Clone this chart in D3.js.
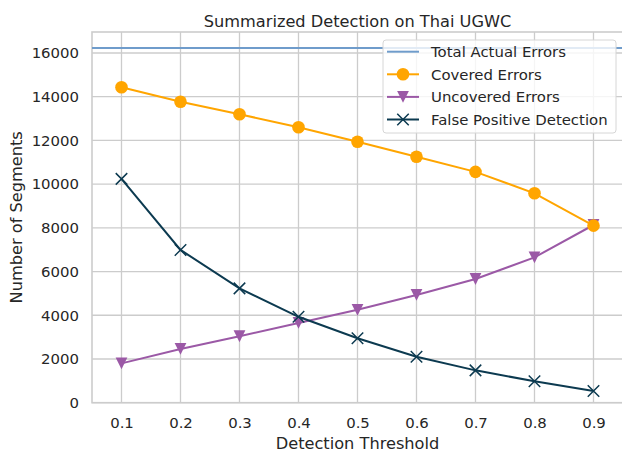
<!doctype html>
<html lang="en">
  <head>
    <meta charset="UTF-8" />
    <title>Summarized Detection on Thai UGWC</title>
    <script src="https://unpkg.com/d3@7.9.0/dist/d3.min.js"></script>
    <style>
      body {
        margin: 0;
        background: #fff;
      }
      svg {
        font-family: 'DejaVu Sans', sans-serif;
        display: block;
      }
    </style>
  </head>
  <body>
    <div id="chart"></div>
    <script>
      // detection thresholds on the x axis
      const thresholds = [0.1, 0.2, 0.3, 0.4, 0.5, 0.6, 0.7, 0.8, 0.9];
      const yTicks = [0, 2000, 4000, 6000, 8000, 10000, 12000, 14000, 16000];

      const totalErrors = 16230;
      const covered = [14430, 13770, 13200, 12600, 11940, 11250, 10560, 9580, 8100];
      const uncovered = [1800, 2460, 3040, 3650, 4250, 4930, 5660, 6650, 8130];
      const falsePositive = [10240, 6990, 5230, 3930, 2950, 2100, 1480, 980, 535];

      const seriesNames = [
        'Total Actual Errors',
        'Covered Errors',
        'Uncovered Errors',
        'False Positive Detection',
      ];

      const W = 622;
      const H = 455;
      const margin = { top: 32, right: -1, bottom: 52.3, left: 92 };

      const colors = {
        total: '#6f9ccb',
        covered: '#ffa500',
        uncovered: '#9b59a6',
        fp: '#0c3a50',
      };
      const textColor = '#262626';
      const gridColor = '#cccccc';
      const tickSize = '14.9px';
      const labelSize = '16.2px';

      const svg = d3
        .select('#chart')
        .append('svg')
        .attr('width', W)
        .attr('height', H);

      const x = d3
        .scaleLinear()
        .domain([0.05, 0.95])
        .range([margin.left, W - margin.right]);
      const y = d3
        .scaleLinear()
        .domain([0, 16960])
        .range([H - margin.bottom, margin.top]);

      // grid
      svg
        .append('g')
        .selectAll('line')
        .data(thresholds)
        .join('line')
        .attr('x1', (d) => x(d))
        .attr('x2', (d) => x(d))
        .attr('y1', y.range()[0])
        .attr('y2', y.range()[1])
        .attr('stroke', gridColor)
        .attr('stroke-width', 1.3);
      svg
        .append('g')
        .selectAll('line')
        .data(yTicks)
        .join('line')
        .attr('x1', x.range()[0])
        .attr('x2', x.range()[1])
        .attr('y1', (d) => y(d))
        .attr('y2', (d) => y(d))
        .attr('stroke', gridColor)
        .attr('stroke-width', 1.3);

      // spines
      svg
        .append('rect')
        .attr('x', x.range()[0])
        .attr('y', y.range()[1])
        .attr('width', x.range()[1] - x.range()[0])
        .attr('height', y.range()[0] - y.range()[1])
        .attr('fill', 'none')
        .attr('stroke', gridColor)
        .attr('stroke-width', 1.6);

      // tick labels
      const xAxis = svg
        .append('g')
        .attr('transform', `translate(0,${y.range()[0]})`)
        .call(
          d3
            .axisBottom(x)
            .tickValues(thresholds)
            .tickFormat(d3.format('.1f'))
            .tickSize(0)
            .tickPadding(15),
        );
      const yAxis = svg
        .append('g')
        .attr('transform', `translate(${x.range()[0]},0)`)
        .call(
          d3
            .axisLeft(y)
            .tickValues(yTicks)
            .tickFormat(d3.format('d'))
            .tickSize(0)
            .tickPadding(13),
        );
      [xAxis, yAxis].forEach((g) => {
        g.select('.domain').remove();
        g.selectAll('text')
          .attr('fill', textColor)
          .style('font-size', tickSize)
          .style('font-family', "'DejaVu Sans', sans-serif");
      });

      // titles
      const midX = (x.range()[0] + x.range()[1]) / 2;
      svg
        .append('text')
        .attr('x', midX)
        .attr('y', 26.5)
        .attr('text-anchor', 'middle')
        .attr('fill', textColor)
        .style('font-size', labelSize)
        .text('Summarized Detection on Thai UGWC');
      svg
        .append('text')
        .attr('x', midX)
        .attr('y', 449)
        .attr('text-anchor', 'middle')
        .attr('fill', textColor)
        .style('font-size', labelSize)
        .text('Detection Threshold');
      svg
        .append('text')
        .attr(
          'transform',
          `translate(22,${(y.range()[0] + y.range()[1]) / 2}) rotate(-90)`,
        )
        .attr('text-anchor', 'middle')
        .attr('fill', textColor)
        .style('font-size', labelSize)
        .text('Number of Segments');

      // total actual errors
      svg
        .append('line')
        .attr('x1', x.range()[0])
        .attr('x2', x.range()[1])
        .attr('y1', y(totalErrors))
        .attr('y2', y(totalErrors))
        .attr('stroke', colors.total)
        .attr('stroke-width', 2);

      const line = d3
        .line()
        .x((d, i) => x(thresholds[i]))
        .y((d) => y(d));

      const triangleDown = (s) =>
        `M0,${s / 2}L${-s / 2},${-s / 2}L${s / 2},${-s / 2}Z`;
      const cross = (s) =>
        `M${-s / 2},${-s / 2}L${s / 2},${s / 2}M${-s / 2},${s / 2}L${s / 2},${-s / 2}`;

      function addMarker(sel, marker, color) {
        if (marker === 'circle') {
          sel.append('circle').attr('r', 6.3).attr('fill', color);
        } else if (marker === 'tri') {
          sel.append('path').attr('d', triangleDown(11.8)).attr('fill', color);
        } else if (marker === 'x') {
          sel
            .append('path')
            .attr('d', cross(11.5))
            .attr('fill', 'none')
            .attr('stroke', color)
            .attr('stroke-width', 1.5);
        }
      }

      function drawSeries(values, color, marker) {
        const g = svg.append('g');
        g.append('path')
          .attr('d', line(values))
          .attr('fill', 'none')
          .attr('stroke', color)
          .attr('stroke-width', 2);
        g.selectAll('.pt')
          .data(values)
          .join('g')
          .attr(
            'transform',
            (d, i) => `translate(${x(thresholds[i])},${y(d)})`,
          )
          .each(function () {
            addMarker(d3.select(this), marker, color);
          });
      }

      drawSeries(uncovered, colors.uncovered, 'tri');
      drawSeries(covered, colors.covered, 'circle');
      drawSeries(falsePositive, colors.fp, 'x');

      // legend
      const lg = svg.append('g').attr('transform', 'translate(383,40)');
      lg.append('rect')
        .attr('width', 233)
        .attr('height', 93)
        .attr('rx', 3)
        .attr('fill', '#fff')
        .attr('fill-opacity', 0.8)
        .attr('stroke', '#d6d6d6')
        .attr('stroke-width', 1);
      const legendColors = [colors.total, colors.covered, colors.uncovered, colors.fp];
      const legendMarkers = ['none', 'circle', 'tri', 'x'];
      seriesNames.forEach((name, i) => {
        const row = lg
          .append('g')
          .attr('transform', `translate(0,${11.7 + i * 22.6})`);
        row.append('line')
          .attr('x1', 4)
          .attr('x2', 36)
          .attr('stroke', legendColors[i])
          .attr('stroke-width', 2);
        addMarker(
          row.append('g').attr('transform', 'translate(20,0)'),
          legendMarkers[i],
          legendColors[i],
        );
        row.append('text')
          .attr('x', 48)
          .attr('y', 5.4)
          .attr('fill', textColor)
          .style('font-size', tickSize)
          .text(name);
      });
    </script>
  </body>
</html>
